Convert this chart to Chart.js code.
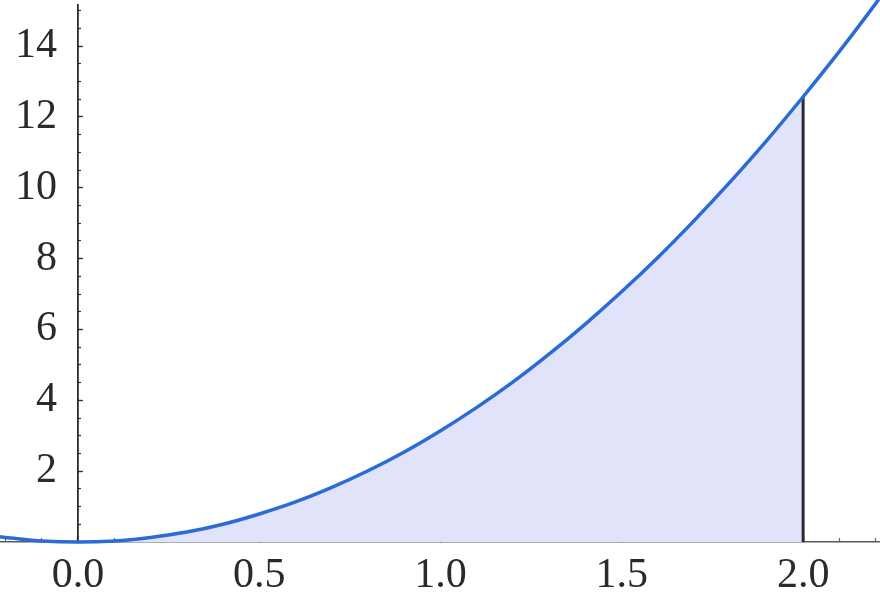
<!DOCTYPE html>
<html>
<head>
<meta charset="utf-8">
<script src="https://cdn.jsdelivr.net/npm/chart.js@4/dist/chart.umd.min.js"></script>
<style>
  html, body { margin: 0; padding: 0; background: #ffffff; }
  #wrap { width: 880px; height: 608px; }
</style>
</head>
<body>
<div id="wrap"><canvas id="c" width="880" height="608"></canvas></div>
<script>
// Curve samples
const xValues = [-0.215, -0.2, -0.1, 0, 0.1, 0.2, 0.3, 0.4, 0.5, 0.6, 0.7, 0.8, 0.9, 1.0,
                 1.1, 1.2, 1.3, 1.4, 1.5, 1.6, 1.7, 1.8, 1.9, 2.0, 2.1, 2.2, 2.21];
const yValues = [0.145, 0.13, 0.03, 0, 0.03, 0.13, 0.28, 0.5, 0.79, 1.13, 1.54, 2.01, 2.54, 3.14,
                 3.8, 4.52, 5.31, 6.16, 7.07, 8.04, 9.08, 10.18, 11.34, 12.57, 13.85, 15.2, 15.34];
// Shaded interval
const shadeStart = 0;
const shadeEnd = 2.0;
// Tick labels
const xTickValues = [0, 0.5, 1.0, 1.5, 2.0];
const xTickLabels = ['0.0', '0.5', '1.0', '1.5', '2.0'];
const yTickValues = [2, 4, 6, 8, 10, 12, 14];
const yTickLabels = ['2', '4', '6', '8', '10', '12', '14'];
const xMinorStep = 0.1;
const yMinorStep = 0.5;

const X_MIN = -0.215, X_MAX = 2.212, Y_MIN = 0, Y_MAX = 15.16;

const curvePts = xValues.map((x, i) => ({ x: x, y: yValues[i] }));
const shadePts = curvePts.filter(p => p.x >= shadeStart - 1e-9 && p.x <= shadeEnd + 1e-9);
const endY = yValues[xValues.indexOf(shadeEnd)];
const edgePts = [{ x: shadeEnd, y: 0 }, { x: shadeEnd, y: endY }];

function minorTicks(min, max, step) {
  const out = [];
  const start = Math.ceil(min / step - 1e-9);
  const end = Math.floor(max / step + 1e-9);
  for (let k = start; k <= end; k++) out.push({ value: +(k * step).toFixed(6) });
  return out;
}
const zeroPad = s => { s.paddingLeft = 0; s.paddingRight = 0; s.paddingTop = 0; s.paddingBottom = 0; };
const labelFont = { family: '"Liberation Serif", "DejaVu Serif", serif', size: 42 };
// y labels on an axis placed at x = 0 get no padding from Chart.js; an en space keeps the gap
const Y_GAP = '\u2002';

new Chart(document.getElementById('c'), {
  type: 'line',
  data: {
    datasets: [
      {
        data: curvePts,
        borderColor: '#2b6bd6',
        borderWidth: 3.5,
        pointRadius: 0,
        fill: false,
        cubicInterpolationMode: 'monotone',
        clip: false,
        xAxisID: 'x', yAxisID: 'y'
      },
      {
        data: edgePts,
        borderColor: '#2b2b35',
        borderWidth: 3,
        pointRadius: 0,
        fill: false,
        clip: false,
        xAxisID: 'x', yAxisID: 'y'
      },
      {
        data: shadePts,
        borderColor: 'rgba(0,0,0,0)',
        borderWidth: 0,
        backgroundColor: '#e0e3fa',
        pointRadius: 0,
        fill: 'origin',
        cubicInterpolationMode: 'monotone',
        xAxisID: 'x', yAxisID: 'y'
      }
    ]
  },
  options: {
    responsive: false,
    animation: false,
    events: [],
    layout: { padding: { top: 5, bottom: 66, left: 0, right: 0 } },
    plugins: { legend: { display: false }, tooltip: { enabled: false } },
    scales: {
      x: {
        type: 'linear', min: X_MIN, max: X_MAX, position: { y: 0 },
        afterBuildTicks: s => { s.ticks = xTickValues.map(v => ({ value: v })); },
        afterFit: zeroPad,
        ticks: {
          font: labelFont, color: '#2a2a2a', padding: 16, maxRotation: 0, autoSkip: false,
          callback: v => { const i = xTickValues.indexOf(v); return i >= 0 ? xTickLabels[i] : ''; }
        },
        grid: { drawOnChartArea: false, drawTicks: true, tickLength: -7, tickColor: '#555', tickWidth: 1.3 },
        border: { display: true, color: '#5a5a5a', width: 1.5 }
      },
      x2: {
        type: 'linear', min: X_MIN, max: X_MAX, position: { y: 0 },
        afterBuildTicks: s => { s.ticks = minorTicks(X_MIN, X_MAX, xMinorStep); },
        afterFit: zeroPad,
        ticks: { display: false },
        grid: { drawOnChartArea: false, drawTicks: true, tickLength: -4, tickColor: '#666', tickWidth: 1.2 },
        border: { display: false }
      },
      y: {
        type: 'linear', min: Y_MIN, max: Y_MAX, position: { x: 0 },
        afterBuildTicks: s => { s.ticks = yTickValues.map(v => ({ value: v })); },
        afterFit: zeroPad,
        ticks: {
          font: labelFont, color: '#2a2a2a', padding: 15, autoSkip: false,
          callback: v => { const i = yTickValues.indexOf(v); return i >= 0 ? yTickLabels[i] + Y_GAP : ''; }
        },
        grid: { drawOnChartArea: false, drawTicks: true, tickLength: -6, tickColor: '#333', tickWidth: 1.3 },
        border: { display: true, color: '#2a2a2a', width: 1.8 }
      },
      y2: {
        type: 'linear', min: Y_MIN, max: Y_MAX, position: { x: 0 },
        afterBuildTicks: s => { s.ticks = minorTicks(Y_MIN, Y_MAX, yMinorStep); },
        afterFit: zeroPad,
        ticks: { display: false },
        grid: { drawOnChartArea: false, drawTicks: true, tickLength: -3, tickColor: '#333', tickWidth: 1.2 },
        border: { display: false }
      }
    }
  }
});
</script>
</body>
</html>
